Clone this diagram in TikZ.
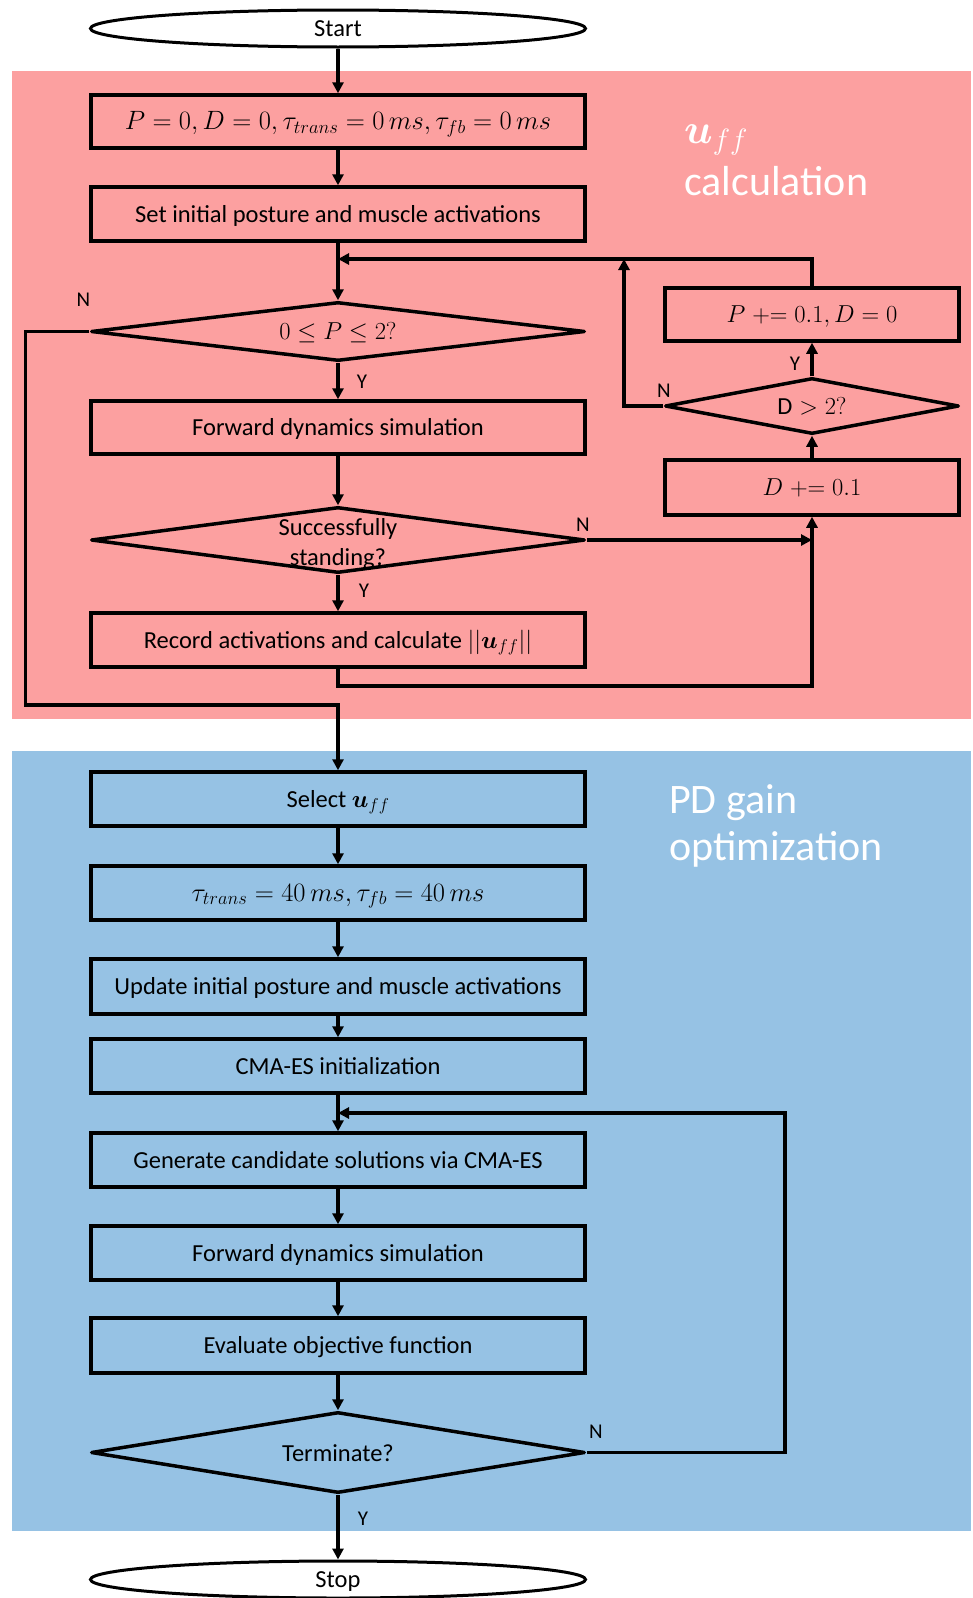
\documentclass[tikz,border=0pt]{standalone}
\usepackage{fix-cm}
\usepackage{amsmath}
\usepackage{fontspec}
\setmainfont{Carlito}
\usetikzlibrary{shapes.geometric,arrows.meta}
\definecolor{redbg}{RGB}{252,160,160}
\definecolor{bluebg}{RGB}{150,194,228}
\begin{document}
\begin{tikzpicture}[x=1pt,y=-1pt,
  every node/.style={font=\fontsize{24.5}{29}\selectfont},
  box/.style={draw,line width=3.5pt,rectangle,minimum width=494pt,inner sep=0pt,line join=miter,text height=22pt,text depth=6pt},
  mbox/.style={box,font=\fontsize{26.5}{30}\selectfont},
  rbox/.style={box,minimum width=294pt},
  dia/.style={draw,line width=3.5pt,diamond,inner sep=0pt,line join=round},
  oval/.style={draw,ellipse,fill=white,line width=3pt,minimum width=495pt,minimum height=37pt,inner sep=0pt,text height=21pt,text depth=5pt},
  con/.style={line width=3.5pt,-{Triangle[length=11pt,width=11pt]}},
  lab/.style={font=\fontsize{21}{23}\selectfont},
  big/.style={font=\fontsize{42}{46}\selectfont,text=white,anchor=base west,inner sep=0pt}]
\useasboundingbox (0,0) rectangle (972,1598);
\fill[redbg] (12,71) rectangle (971,719);
\fill[bluebg] (12,751) rectangle (971,1531);
\node[big] (t1) at (684,143) {$\boldsymbol{u}_{ff}$};
\node[big] (t2) at (684,195) {calculation};
\node[big] (t3) at (669,813) {PD gain};
\node[big] (t4) at (669,860) {optimization};

% red part
\node[oval] (start) at (338,28.5) {Start};
\node[mbox,minimum height=53pt] (b1) at (338,121.5) {$P=0, D=0, \tau_{trans}=0\,ms, \tau_{fb}=0\,ms$};
\node[box,minimum height=54pt] (b2) at (338,214) {Set initial posture and muscle activations};
\node[dia,minimum width=494pt,minimum height=59pt] (d1) at (338,331.5) {};
\node (d1t) at (338,333) {$0\le P\le 2?$};
\node[box,minimum height=53pt] (b3) at (338,427.5) {Forward dynamics simulation};
\node[dia,minimum width=494pt,minimum height=66pt] (d2) at (338,540) {};
\node[align=center,font=\fontsize{24.5}{30}\selectfont] (d2t) at (338,544) {Successfully\\standing?};
\node[box,minimum height=54pt] (b4) at (338,640) {Record activations and calculate $||\boldsymbol{u}_{ff}||$};

\node[rbox,minimum height=53pt] (pb) at (812,314.5) {$P \mathrel{+}= 0.1, D = 0$};
\node[dia,minimum width=294pt,minimum height=56pt] (d3) at (812,406) {};
\node (d3t) at (d3) {$\mathrm{D} > 2?$};
\node[rbox,minimum height=55pt] (db) at (812,487.5) {$D \mathrel{+}= 0.1$};

\coordinate (j1) at (338,259);
\coordinate (j2) at (624,259);
\coordinate (j3) at (812,540);
\coordinate (j4) at (338,686);
\coordinate (j5) at (25.5,331.5);
\coordinate (j6) at (25.5,705);
\coordinate (j7) at (338,705);

\draw[con] (start) -- (b1);
\draw[con] (b1) -- (b2);
\draw[con] (b2) -- (d1);
\draw[con] (d1) -- (b3);
\draw[con] (b3) -- (d2);
\draw[con] (d2) -- (b4);
\draw[con] (pb.north) |- (j1);
\draw[con] (d3.west) -| (j2);
\draw[con] (db) -- (d3);
\draw[con] (d3) -- (pb);
\draw[con] (d2.east) -- (j3);
\draw[con] (b4.south) -- (j4) -| (db.south);

\node[lab] (n1) at (83.5,299.5) {N};
\node[lab] (y1) at (362,382) {Y};
\node[lab] (n2) at (583,525) {N};
\node[lab] (y2) at (364,591) {Y};
\node[lab] (y3) at (795,364) {Y};
\node[lab] (n3) at (664,391) {N};

% blue part
\node[box,minimum height=54pt] (sel) at (338,799) {Select $\boldsymbol{u}_{ff}$};
\node[mbox,minimum height=54pt] (tau) at (338,893) {$\tau_{trans}=40\,ms, \tau_{fb}=40\,ms$};
\node[box,minimum height=55pt] (upd) at (338,986.5) {Update initial posture and muscle activations};
\node[box,minimum height=54pt] (cma) at (338,1066) {CMA-ES initialization};
\node[box,minimum height=54pt] (gen) at (338,1160) {Generate candidate solutions via CMA-ES};
\node[box,minimum height=54pt] (fwd) at (338,1253) {Forward dynamics simulation};
\node[box,minimum height=55pt] (eva) at (338,1345.5) {Evaluate objective function};
\node[dia,minimum width=494pt,minimum height=81pt] (dt) at (338,1452.5) {};
\node (dtt) at (338,1453.5) {Terminate?};
\node[oval] (stop) at (338,1579.5) {Stop};

\coordinate (j8) at (785,1113);
\coordinate (j9) at (338,1113);

\draw[con] (d1.west) -- (j5) -- (j6) -- (j7) -- (sel.north);
\draw[con] (sel) -- (tau);
\draw[con] (tau) -- (upd);
\draw[con] (upd) -- (cma);
\draw[con] (cma) -- (gen);
\draw[con] (gen) -- (fwd);
\draw[con] (fwd) -- (eva);
\draw[con] (eva) -- (dt);
\draw[con] (dt) -- (stop);
\draw[con] (dt.east) -| (j8) -- (j9);

\node[lab] (n4) at (596,1432) {N};
\node[lab] (y4) at (363,1519) {Y};
\end{tikzpicture}
\end{document}
